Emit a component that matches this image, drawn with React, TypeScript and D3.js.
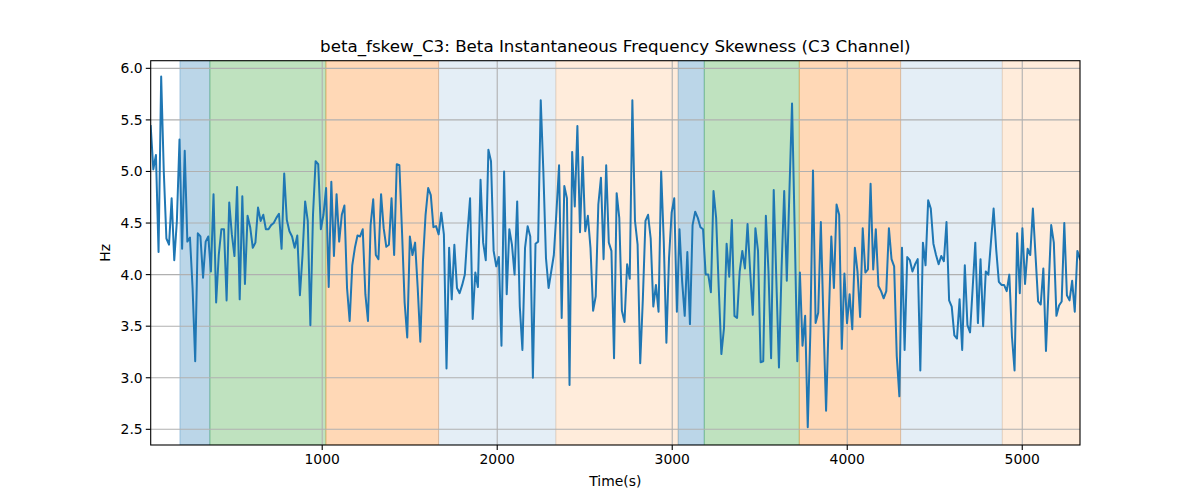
import { useEffect, useRef } from 'react'
import * as d3 from 'd3'

// sampled values (Hz), evenly spaced in time
const values = [
  5.44, 5.02, 5.16, 4.22, 5.92, 5.0, 4.35, 4.29, 4.74, 4.14, 4.52, 5.31, 4.25, 5.20, 4.32, 4.36, 3.87, 3.16, 4.40,
  4.37, 3.97, 4.32, 4.37, 4.03, 4.78, 3.73, 4.19, 4.44, 4.44, 3.75, 4.70, 4.39, 4.18, 4.85, 3.76, 4.76, 3.91, 4.57, 4.46,
  4.26, 4.31, 4.65, 4.52, 4.58, 4.44, 4.44, 4.48, 4.50, 4.55, 4.59, 4.25, 4.98, 4.53, 4.42, 4.37, 4.26, 4.38, 3.80, 4.19,
  4.71, 4.52, 3.51,
  4.58, 5.10, 5.07, 4.44, 4.58, 4.84, 3.88, 4.90, 4.18, 4.78, 4.32, 4.58, 4.67, 3.87, 3.55, 4.09, 4.26, 4.38, 4.37, 4.44,
  3.81, 3.55, 4.48, 4.73, 4.19, 4.15, 4.78, 4.45, 4.27, 4.29, 4.74, 4.19, 5.07, 5.06, 4.42, 3.73, 3.39, 4.37, 4.19, 4.31,
  3.87, 3.35, 4.13, 4.58, 4.84, 4.77, 4.46, 4.47, 4.39, 4.60, 4.39, 3.09, 4.26, 3.76, 4.29, 3.87, 3.82, 3.90, 4.00, 4.40,
  4.74, 3.57,
  4.02, 3.88, 4.92, 4.31, 4.14, 5.21, 5.10, 4.23, 4.08, 4.17, 3.31, 5.0, 3.81, 4.44, 4.29, 4.00, 4.71, 3.69, 3.27, 4.26,
  4.47, 4.37, 3.0, 4.30, 4.32, 5.69, 5.0, 4.16, 3.87, 4.03, 4.19, 4.61, 5.06, 3.58, 4.86, 4.74, 2.93, 5.19, 4.66, 5.44,
  4.41, 5.14, 4.42, 4.57, 4.26, 3.65, 3.79, 4.68, 4.94, 4.15, 5.06, 4.31, 4.23, 3.19, 4.79, 4.55, 3.65, 3.54, 4.10, 3.96,
  5.69,
  4.52, 4.29, 3.14, 3.76, 4.52, 4.58, 4.35, 3.69, 3.90, 3.64, 5.0, 4.32, 3.34, 4.16, 4.60, 4.74, 3.64, 4.44, 3.94, 3.60,
  4.22, 3.52, 4.48, 4.61, 4.55, 4.46, 4.44, 4.0, 4.0, 3.83, 4.81, 4.55, 3.87, 3.23, 3.48, 4.30, 3.98, 4.53, 3.60, 3.58,
  4.03, 4.23, 4.06, 4.49, 4.03, 3.61, 4.45, 4.23, 3.15, 3.16, 4.57, 4.03, 3.19, 4.82, 3.95, 3.10, 4.06, 4.81, 3.94, 4.81,
  5.66,
  4.45, 3.16, 4.02, 3.31, 3.60, 2.52, 3.45, 5.01, 3.53, 3.63, 4.51, 3.55, 2.68, 3.55, 4.37, 3.87, 4.68, 4.58, 3.28, 4.01,
  3.53, 3.81, 3.47, 4.26, 4.03, 3.59, 4.45, 4.02, 4.05, 4.88, 4.05, 4.44, 3.89, 3.84, 3.77, 3.84, 4.45, 4.15, 4.08, 3.21,
  2.82, 4.26, 3.27, 4.17, 4.14, 4.03, 4.10, 4.15, 3.07, 4.31, 4.09, 4.72,
  4.64, 4.30, 4.19, 4.10, 4.18, 4.13, 4.51, 3.75, 3.69, 3.41, 3.38, 3.76, 3.27, 4.09, 3.51, 3.44, 3.87, 4.31, 3.53, 4.15,
  3.50, 4.03, 4.0, 4.32, 4.64, 4.24, 3.93, 3.90, 3.90, 3.84, 4.0, 3.40, 3.07, 4.40, 3.82, 4.45, 3.91, 4.25, 4.19, 4.64,
  4.19, 3.74, 3.71, 4.06, 3.26, 3.87, 4.48, 4.31, 3.60, 3.70, 3.74, 4.50, 3.80, 3.75, 3.94, 3.64, 4.23, 4.15,
]
const tStart = 20
const tEnd = 5330

// stage spans
const spanStarts = [187, 358, 1021, 1665, 2335, 3034, 3183, 3726, 4305, 4886]
const spanEnds = [358, 1021, 1665, 2335, 3034, 3183, 3726, 4305, 4886, 5330]
const spanColors = ['#1f77b4', '#2ca02c', '#ff7f0e', '#1f77b4', '#ff7f0e', '#1f77b4', '#2ca02c', '#ff7f0e', '#1f77b4', '#ff7f0e']
const spanAlphas = [0.3, 0.3, 0.3, 0.12, 0.15, 0.3, 0.3, 0.3, 0.12, 0.15]

const xTicks = [1000, 2000, 3000, 4000, 5000]
const yTicks = [2.5, 3.0, 3.5, 4.0, 4.5, 5.0, 5.5, 6.0]

export default function App() {
  const ref = useRef<SVGSVGElement>(null)

  useEffect(() => {
    document.body.style.margin = '0'
    if (!ref.current) return
    const svg = d3.select(ref.current)
    svg.selectAll('*').remove()

    const left = 150.7, right = 1080, top = 60.7, bottom = 445
    const font = 'DejaVu Sans, sans-serif'

    const x = d3.scaleLinear().domain([tStart, tEnd]).range([left, right])
    const y = d3.scaleLinear().domain([2.348, 6.074]).range([bottom, top])
    const step = (tEnd - tStart) / (values.length - 1)
    const pts: [number, number][] = values.map((v, i) => [tStart + i * step, v])

    svg.append('defs').append('clipPath').attr('id', 'clip')
      .append('rect').attr('x', left).attr('y', top).attr('width', right - left).attr('height', bottom - top)

    const plot = svg.append('g').attr('clip-path', 'url(#clip)')

    // spans
    spanStarts.forEach((s, i) => {
      plot.append('rect')
        .attr('x', x(s)).attr('y', top)
        .attr('width', x(spanEnds[i]) - x(s)).attr('height', bottom - top)
        .attr('fill', spanColors[i]).attr('fill-opacity', spanAlphas[i])
        .attr('stroke', spanColors[i]).attr('stroke-opacity', spanAlphas[i]).attr('stroke-width', 1)
    })

    // grid
    xTicks.forEach(t => {
      plot.append('line').attr('x1', x(t)).attr('x2', x(t)).attr('y1', top).attr('y2', bottom)
        .attr('stroke', '#b0b0b0').attr('stroke-width', 1.1)
    })
    yTicks.forEach(t => {
      plot.append('line').attr('x1', left).attr('x2', right).attr('y1', y(t)).attr('y2', y(t))
        .attr('stroke', '#b0b0b0').attr('stroke-width', 1.1)
    })

    // series
    const line = d3.line<[number, number]>().x(d => x(d[0])).y(d => y(d[1]))
    plot.append('path').attr('d', line(pts) || '')
      .attr('fill', 'none').attr('stroke', '#1f77b4').attr('stroke-width', 2)
      .attr('stroke-linejoin', 'round').attr('stroke-linecap', 'square')

    // frame
    svg.append('rect').attr('x', left).attr('y', top).attr('width', right - left).attr('height', bottom - top)
      .attr('fill', 'none').attr('stroke', '#000').attr('stroke-width', 1.1)

    // ticks
    xTicks.forEach(t => {
      svg.append('line').attr('x1', x(t)).attr('x2', x(t)).attr('y1', bottom).attr('y2', bottom + 4.9)
        .attr('stroke', '#000').attr('stroke-width', 1.1)
      svg.append('text').attr('x', x(t)).attr('y', bottom + 19).attr('text-anchor', 'middle')
        .style('font-family', font).style('font-size', '13.9px').style('fill', '#000').text(String(t))
    })
    yTicks.forEach(t => {
      svg.append('line').attr('x1', left - 4.9).attr('x2', left).attr('y1', y(t)).attr('y2', y(t))
        .attr('stroke', '#000').attr('stroke-width', 1.1)
      svg.append('text').attr('x', left - 8).attr('y', y(t) + 5).attr('text-anchor', 'end')
        .style('font-family', font).style('font-size', '13.9px').style('fill', '#000').text(t.toFixed(1))
    })

    // labels
    svg.append('text').attr('x', (left + right) / 2).attr('y', 486).attr('text-anchor', 'middle')
      .style('font-family', font).style('font-size', '13.9px').style('fill', '#000').text('Time(s)')
    svg.append('text').attr('transform', `translate(110, ${(top + bottom) / 2}) rotate(-90)`).attr('text-anchor', 'middle')
      .style('font-family', font).style('font-size', '13.9px').style('fill', '#000').text('Hz')
    svg.append('text').attr('x', (left + right) / 2).attr('y', 52).attr('text-anchor', 'middle')
      .style('font-family', font).style('font-size', '16.7px').style('fill', '#000')
      .text('beta_fskew_C3: Beta Instantaneous Frequency Skewness (C3 Channel)')
  }, [])

  return <svg ref={ref} width={1200} height={500} style={{ display: 'block', background: '#fff' }} />
}
